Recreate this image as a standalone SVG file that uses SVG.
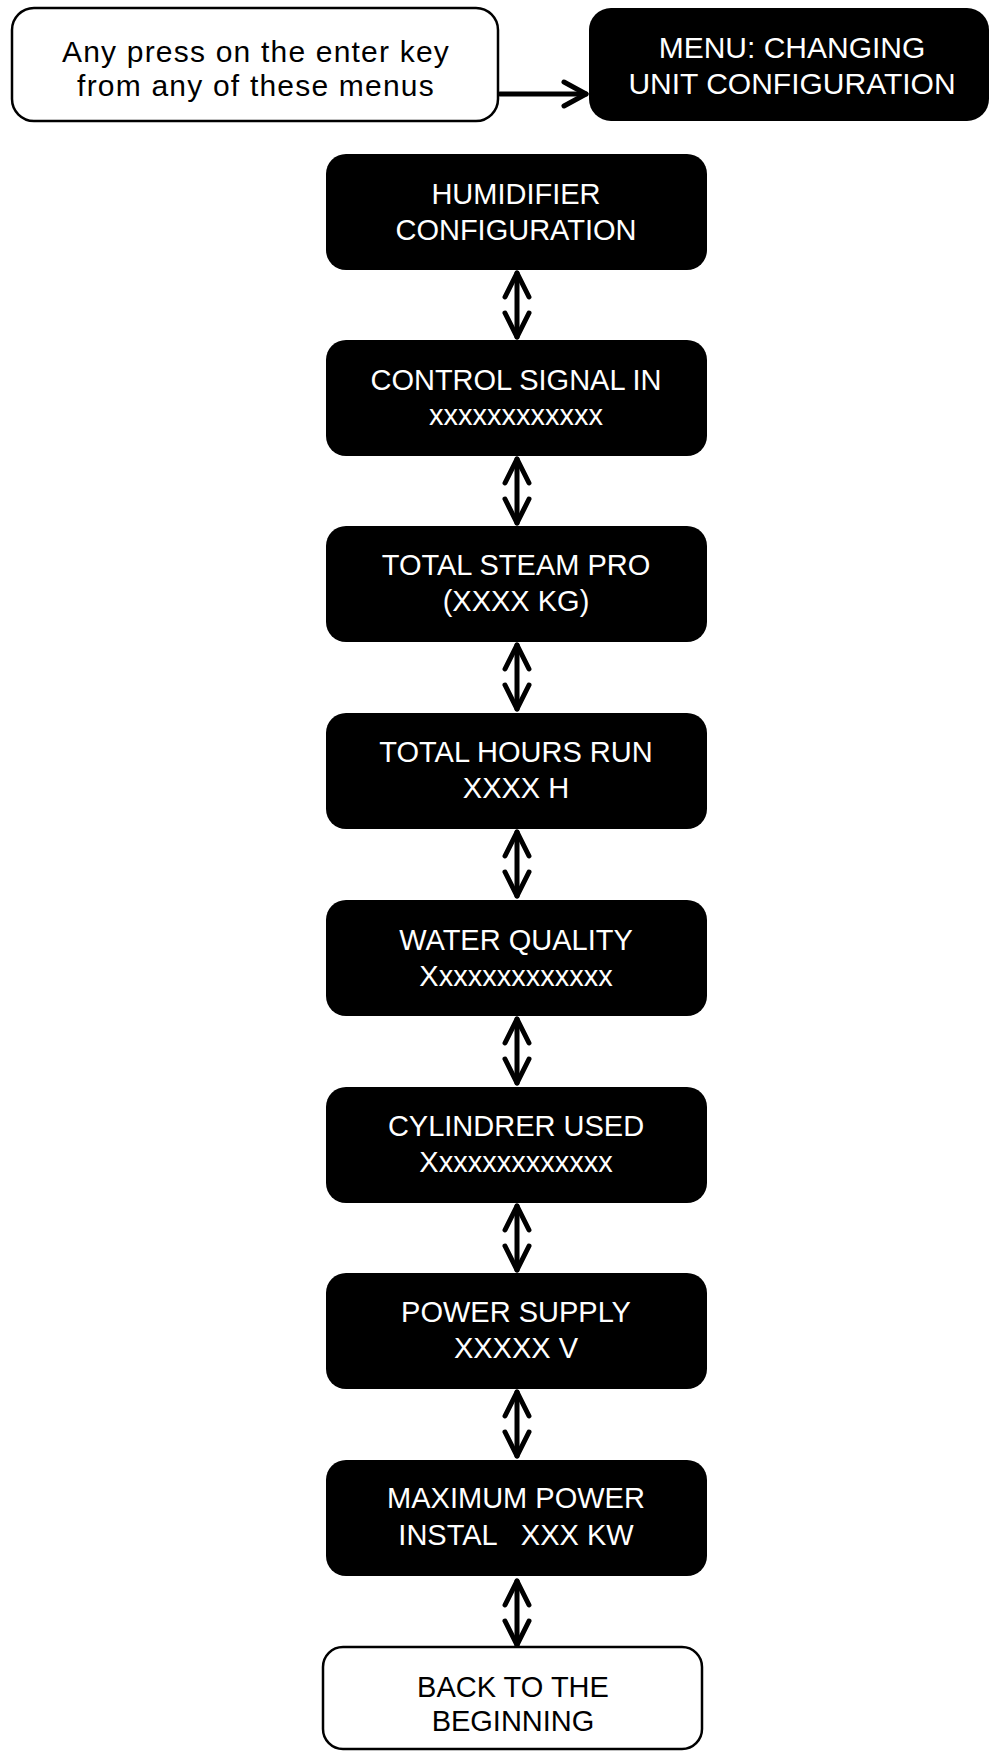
<svg xmlns="http://www.w3.org/2000/svg" xmlns:xlink="http://www.w3.org/1999/xlink" width="991" height="1751" viewBox="0 0 991 1751">
<style>
.blk{fill:#000}
.wht{fill:#fff;stroke:#000;stroke-width:2.5}
.tw{fill:#fff;font-family:"Liberation Sans",Arial,sans-serif;font-size:29px;text-anchor:middle}
.tb{fill:#000;font-family:"Liberation Sans",Arial,sans-serif;font-size:29px;text-anchor:middle}
.ln{stroke:#000;stroke-width:5;fill:none;stroke-linecap:round;stroke-linejoin:round}
</style>
<defs>
<g id="dbl">
<line class="ln" x1="0" y1="3" x2="0" y2="67"/>
<polyline class="ln" points="-12,27 0,3 12,27"/>
<polyline class="ln" points="-12,43 0,67 12,43"/>
</g>
</defs>
<rect width="991" height="1751" fill="#fff"/>
<g id="connectors">
<line class="ln" x1="500" y1="94" x2="586" y2="94"/>
<polyline class="ln" points="564,82 586,94 564,106"/>
<use xlink:href="#dbl" x="517" y="270"/>
<use xlink:href="#dbl" x="517" y="456"/>
<use xlink:href="#dbl" x="517" y="642"/>
<use xlink:href="#dbl" x="517" y="829"/>
<use xlink:href="#dbl" x="517" y="1016"/>
<use xlink:href="#dbl" x="517" y="1203"/>
<use xlink:href="#dbl" x="517" y="1389"/>
<use xlink:href="#dbl" x="517" y="1578"/>
</g>
<g id="start">
<rect class="wht" x="12" y="8" width="486" height="113" rx="22"/>
<text class="tb" style="font-size:30px;letter-spacing:1.2px"><tspan x="256" y="62">Any press on the enter key</tspan><tspan x="256" y="96">from any of these menus</tspan></text>
</g>
<g id="menu">
<rect class="blk" x="589" y="8" width="400" height="113" rx="22"/>
<text class="tw" style="font-size:30px"><tspan x="792" y="58">MENU: CHANGING</tspan><tspan x="792" y="94">UNIT CONFIGURATION</tspan></text>
</g>
<g id="humidifier">
<rect class="blk" x="326" y="154" width="381" height="116" rx="20"/>
<text class="tw"><tspan x="516" y="204">HUMIDIFIER</tspan><tspan x="516" y="240">CONFIGURATION</tspan></text>
</g>
<g id="control">
<rect class="blk" x="326" y="340" width="381" height="116" rx="20"/>
<text class="tw"><tspan x="516" y="390">CONTROL SIGNAL IN</tspan><tspan x="516" y="425">xxxxxxxxxxxx</tspan></text>
</g>
<g id="steam">
<rect class="blk" x="326" y="526" width="381" height="116" rx="20"/>
<text class="tw"><tspan x="516" y="575">TOTAL STEAM PRO</tspan><tspan x="516" y="611">(XXXX KG)</tspan></text>
</g>
<g id="hours">
<rect class="blk" x="326" y="713" width="381" height="116" rx="20"/>
<text class="tw"><tspan x="516" y="762">TOTAL HOURS RUN</tspan><tspan x="516" y="798">XXXX H</tspan></text>
</g>
<g id="water">
<rect class="blk" x="326" y="900" width="381" height="116" rx="20"/>
<text class="tw"><tspan x="516" y="950">WATER QUALITY</tspan><tspan x="516" y="986">Xxxxxxxxxxxxx</tspan></text>
</g>
<g id="cylinder">
<rect class="blk" x="326" y="1087" width="381" height="116" rx="20"/>
<text class="tw"><tspan x="516" y="1136">CYLINDRER USED</tspan><tspan x="516" y="1172">Xxxxxxxxxxxxx</tspan></text>
</g>
<g id="power">
<rect class="blk" x="326" y="1273" width="381" height="116" rx="20"/>
<text class="tw"><tspan x="516" y="1322">POWER SUPPLY</tspan><tspan x="516" y="1358">XXXXX V</tspan></text>
</g>
<g id="maxpower">
<rect class="blk" x="326" y="1460" width="381" height="116" rx="20"/>
<text class="tw" xml:space="preserve"><tspan x="516" y="1508">MAXIMUM POWER</tspan><tspan x="516" y="1545">INSTAL   XXX KW</tspan></text>
</g>
<g id="back">
<rect class="wht" x="323" y="1647" width="379" height="102" rx="20"/>
<text class="tb"><tspan x="513" y="1697">BACK TO THE</tspan><tspan x="513" y="1731">BEGINNING</tspan></text>
</g>
</svg>
